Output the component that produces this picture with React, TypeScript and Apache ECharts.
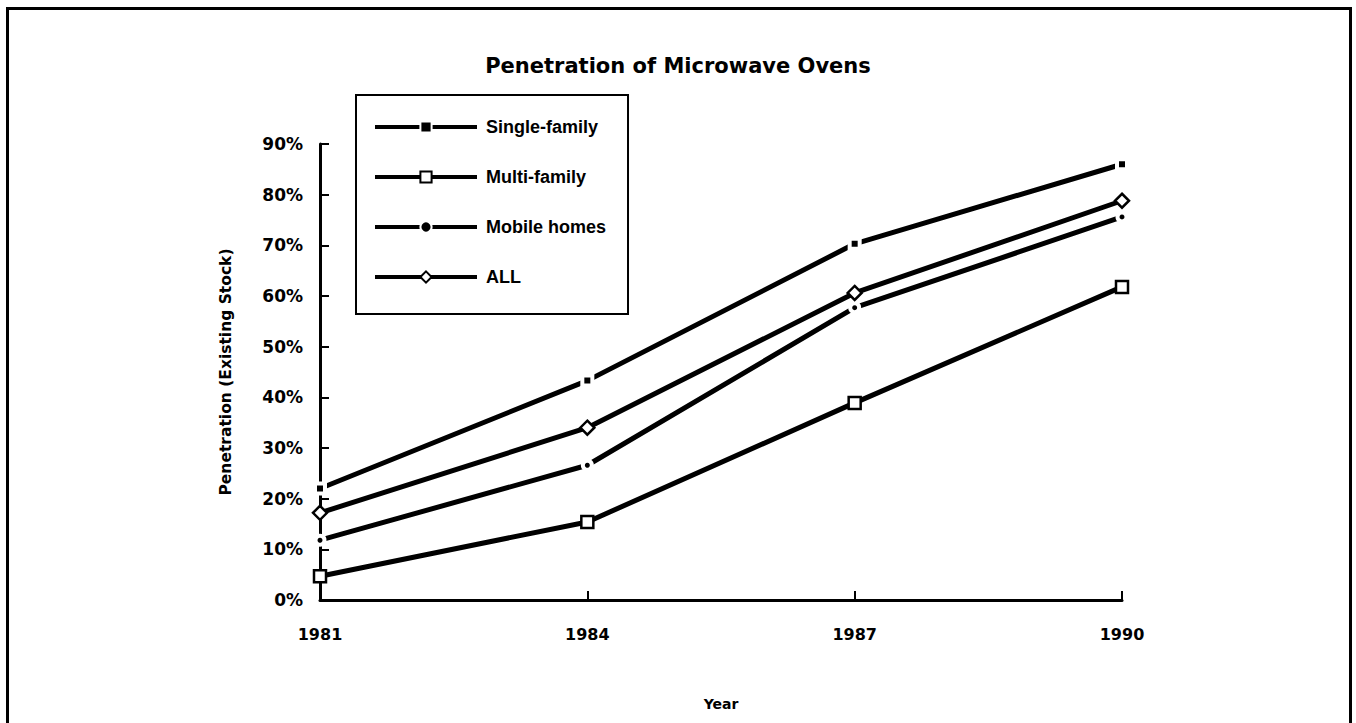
import React, { useEffect, useRef } from "react";
import * as echarts from "echarts";

const years = ["1981", "1984", "1987", "1990"];
const singleFamily = [22, 43.3, 70.3, 86];
const multiFamily = [4.7, 15.4, 38.9, 61.8];
const mobileHomes = [11.8, 26.6, 57.7, 75.6];
const allHomes = [17.2, 34, 60.6, 78.8];
const yTicks = [0, 10, 20, 30, 40, 50, 60, 70, 80, 90];

const TICK_FONT = "'DejaVu Sans', sans-serif";
const LEGEND_FONT = "'Liberation Sans', Arial, sans-serif";

export default function App() {
  const ref = useRef<HTMLDivElement>(null);
  useEffect(() => {
    if (!ref.current) return;
    const chart = echarts.init(ref.current, null, { renderer: "svg" });
    const lineStyle = { color: "#000", width: 5 };
    chart.setOption({
      animation: false,
      backgroundColor: "#fff",
      title: {
        text: "Penetration of Microwave Ovens",
        left: "center",
        top: 55,
        padding: 0,
        textStyle: { fontFamily: TICK_FONT, fontWeight: "bold", fontSize: 21, color: "#000" },
      },
      graphic: [
        {
          type: "rect",
          shape: { x: 7.5, y: 8.5, width: 1343, height: 740 },
          style: { fill: "none", stroke: "#000", lineWidth: 3 },
          silent: true,
        },
      ],
      legend: {
        orient: "vertical",
        left: 356,
        top: 95,
        padding: [23, 22, 28, 17],
        itemWidth: 102,
        itemHeight: 14,
        itemGap: 32,
        borderColor: "#000",
        borderWidth: 2,
        lineStyle: { width: 4, color: "#000" },
        textStyle: {
          fontFamily: LEGEND_FONT,
          fontWeight: "bold",
          fontSize: 18,
          color: "#000",
          padding: [0, 0, 0, 4],
          lineHeight: 10,
        },
        data: ["Single-family", "Multi-family", "Mobile homes", "ALL"],
      },
      grid: { left: 320, right: 234, top: 144, bottom: 123, containLabel: false },
      xAxis: {
        type: "category",
        data: years,
        boundaryGap: false,
        name: "Year",
        nameLocation: "middle",
        nameGap: 97,
        nameTextStyle: { fontFamily: TICK_FONT, fontWeight: "bold", fontSize: 14, color: "#000" },
        axisLine: { lineStyle: { color: "#000", width: 3 } },
        axisTick: { inside: true, length: 9, alignWithLabel: true, lineStyle: { color: "#000", width: 2 } },
        axisLabel: { margin: 26, fontFamily: TICK_FONT, fontWeight: "bold", fontSize: 16, color: "#000" },
        splitLine: { show: false },
      },
      yAxis: {
        type: "value",
        min: yTicks[0],
        max: yTicks[yTicks.length - 1],
        interval: 10,
        name: "Penetration (Existing Stock)",
        nameLocation: "middle",
        nameGap: 86,
        nameRotate: 90,
        nameTextStyle: { fontFamily: TICK_FONT, fontWeight: "bold", fontSize: 15.5, color: "#000" },
        axisLine: { show: true, lineStyle: { color: "#000", width: 3 } },
        axisTick: { show: true, inside: true, length: 9, lineStyle: { color: "#000", width: 2 } },
        axisLabel: {
          margin: 17,
          formatter: "{value}%",
          fontFamily: TICK_FONT,
          fontWeight: "bold",
          fontSize: 17,
          color: "#000",
        },
        splitLine: { show: false },
      },
      series: [
        {
          name: "Single-family",
          type: "line",
          data: singleFamily,
          symbol: "rect",
          symbolSize: 10,
          showAllSymbol: true,
          lineStyle,
          itemStyle: { color: "#000", borderColor: "#fff", borderWidth: 4 },
          z: 3,
        },
        {
          name: "Multi-family",
          type: "line",
          data: multiFamily,
          symbol: "rect",
          symbolSize: 12,
          showAllSymbol: true,
          lineStyle,
          itemStyle: { color: "#fff", borderColor: "#000", borderWidth: 2.5 },
          z: 3,
        },
        {
          name: "Mobile homes",
          type: "line",
          data: mobileHomes,
          symbol: "circle",
          symbolSize: 9,
          showAllSymbol: true,
          lineStyle,
          itemStyle: { color: "#000", borderColor: "#fff", borderWidth: 4 },
          z: 3,
        },
        {
          name: "ALL",
          type: "line",
          data: allHomes,
          symbol: "diamond",
          symbolSize: 14,
          showAllSymbol: true,
          lineStyle,
          itemStyle: { color: "#fff", borderColor: "#000", borderWidth: 2.5 },
          z: 3,
        },
      ],
    });
    return () => chart.dispose();
  }, []);
  return (
    <div
      ref={ref}
      style={{ position: "absolute", left: 0, top: 0, width: 1356, height: 723 }}
    />
  );
}
